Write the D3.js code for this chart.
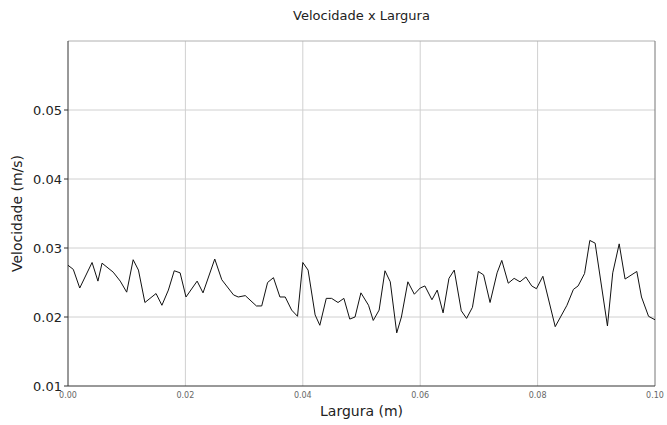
<!DOCTYPE html>
<html>
<head>
<meta charset="utf-8">
<script src="https://cdn.jsdelivr.net/npm/d3@7"></script>
<style>
  body { margin: 0; background: #fff; }
  text { font-family: "DejaVu Sans", sans-serif; }
</style>
</head>
<body>
<div id="chart"></div>
<script>
// largura (m) and velocidade (m/s)
let largura = [0.0000, 0.0009, 0.0020, 0.0041, 0.0051, 0.0058, 0.0077, 0.0089, 0.0100, 0.0111,
    0.0120, 0.0131, 0.0150, 0.0160, 0.0171, 0.0181, 0.0191, 0.0201, 0.0220, 0.0230,
    0.0250, 0.0262, 0.0282, 0.0290, 0.0302, 0.0321, 0.0330, 0.0340, 0.0350, 0.0361,
    0.0370, 0.0381, 0.0391, 0.0400, 0.0409, 0.0421, 0.0429, 0.0440, 0.0449, 0.0460,
    0.0470, 0.0480, 0.0489, 0.0499, 0.0512, 0.0520, 0.0530, 0.0540, 0.0549, 0.0560,
    0.0568, 0.0579, 0.0590, 0.0600, 0.0608, 0.0620, 0.0629, 0.0639, 0.0649, 0.0658,
    0.0670, 0.0679, 0.0689, 0.0699, 0.0708, 0.0719, 0.0731, 0.0739, 0.0750, 0.0760,
    0.0770, 0.0780, 0.0790, 0.0798, 0.0809, 0.0830, 0.0850, 0.0861, 0.0869, 0.0880,
    0.0889, 0.0898, 0.0919, 0.0928, 0.0939, 0.0949, 0.0969, 0.0977, 0.0989, 0.1000];
let velocidade = [0.0275, 0.0269, 0.0242, 0.0279, 0.0252, 0.0278, 0.0265, 0.0252, 0.0236, 0.0283,
    0.0268, 0.0221, 0.0234, 0.0217, 0.0239, 0.0267, 0.0264, 0.0229, 0.0252, 0.0235,
    0.0284, 0.0254, 0.0232, 0.0229, 0.0231, 0.0216, 0.0216, 0.0250, 0.0257, 0.0229,
    0.0229, 0.0210, 0.0201, 0.0279, 0.0268, 0.0203, 0.0188, 0.0227, 0.0227, 0.0221,
    0.0227, 0.0197, 0.0200, 0.0235, 0.0217, 0.0195, 0.0210, 0.0267, 0.0251, 0.0177,
    0.0200, 0.0251, 0.0233, 0.0242, 0.0245, 0.0225, 0.0239, 0.0206, 0.0256, 0.0268,
    0.0209, 0.0198, 0.0214, 0.0266, 0.0261, 0.0221, 0.0264, 0.0282, 0.0249, 0.0256,
    0.0251, 0.0258, 0.0245, 0.0241, 0.0259, 0.0186, 0.0217, 0.0240, 0.0245, 0.0263,
    0.0311, 0.0307, 0.0187, 0.0264, 0.0306, 0.0255, 0.0266, 0.0229, 0.0201, 0.0196];

let xTicks = [0, 0.02, 0.04, 0.06, 0.08, 0.10];
let yTicks = [0.01, 0.02, 0.03, 0.04, 0.05];

let width = 667;
let height = 425;
let margin = {top: 41, right: 12, bottom: 39, left: 68};

let svg = d3.select('#chart').append('svg')
            .attr('width', width)
            .attr('height', height);

let x = d3.scaleLinear().domain([0, 0.1]).range([margin.left, width - margin.right]);
let y = d3.scaleLinear().domain([0.01, 0.06]).range([height - margin.bottom, margin.top]);

// grid
svg.append('g')
    .selectAll('line')
    .data(xTicks.slice(1, -1))
    .join('line')
    .attr('x1', d => x(d)).attr('x2', d => x(d))
    .attr('y1', y(0.01)).attr('y2', y(0.06))
    .attr('stroke', '#d0d0d0').attr('stroke-width', 1);

svg.append('g')
    .selectAll('line')
    .data(yTicks.slice(1))
    .join('line')
    .attr('x1', x(0)).attr('x2', x(0.1))
    .attr('y1', d => y(d)).attr('y2', d => y(d))
    .attr('stroke', '#d0d0d0').attr('stroke-width', 1);

// frame
svg.append('line')
    .attr('x1', x(0)).attr('x2', x(0.1)).attr('y1', y(0.06)).attr('y2', y(0.06))
    .attr('stroke', '#b0b0b0');
svg.append('line')
    .attr('x1', x(0.1)).attr('x2', x(0.1)).attr('y1', y(0.06)).attr('y2', y(0.01))
    .attr('stroke', '#777');
svg.append('line')
    .attr('x1', x(0)).attr('x2', x(0)).attr('y1', y(0.06)).attr('y2', y(0.01))
    .attr('stroke', '#333');
svg.append('line')
    .attr('x1', x(0)).attr('x2', x(0.1)).attr('y1', y(0.01)).attr('y2', y(0.01))
    .attr('stroke', '#333');

// y ticks
svg.append('g')
    .selectAll('text')
    .data(yTicks)
    .join('text')
    .attr('x', x(0) - 6)
    .attr('y', d => y(d) + 4.5)
    .attr('text-anchor', 'end')
    .attr('font-size', 13)
    .attr('fill', '#222')
    .text(d => d.toFixed(2));

svg.append('g')
    .selectAll('line')
    .data(yTicks)
    .join('line')
    .attr('x1', x(0) - 4).attr('x2', x(0))
    .attr('y1', d => y(d)).attr('y2', d => y(d))
    .attr('stroke', '#333');

// x ticks
svg.append('g')
    .selectAll('text')
    .data(xTicks)
    .join('text')
    .attr('x', d => x(d))
    .attr('y', y(0.01) + 12)
    .attr('text-anchor', 'middle')
    .attr('font-size', 8)
    .attr('fill', '#666')
    .text(d => d.toFixed(2));

// line
let line = d3.line()
    .x((d, i) => x(largura[i]))
    .y(d => y(d));

svg.append('path')
    .datum(velocidade)
    .attr('d', line)
    .attr('fill', 'none')
    .attr('stroke', '#111')
    .attr('stroke-width', 1);

// labels
svg.append('text')
    .attr('x', (x(0) + x(0.1)) / 2)
    .attr('y', 20)
    .attr('text-anchor', 'middle')
    .attr('font-size', 13)
    .attr('fill', '#222')
    .text('Velocidade x Largura');

svg.append('text')
    .attr('x', (x(0) + x(0.1)) / 2)
    .attr('y', 416)
    .attr('text-anchor', 'middle')
    .attr('font-size', 14)
    .attr('fill', '#222')
    .text('Largura (m)');

svg.append('text')
    .attr('transform', 'translate(22,' + (y(0.035)) + ') rotate(-90)')
    .attr('text-anchor', 'middle')
    .attr('font-size', 14)
    .attr('fill', '#222')
    .text('Velocidade (m/s)');
</script>
</body>
</html>
